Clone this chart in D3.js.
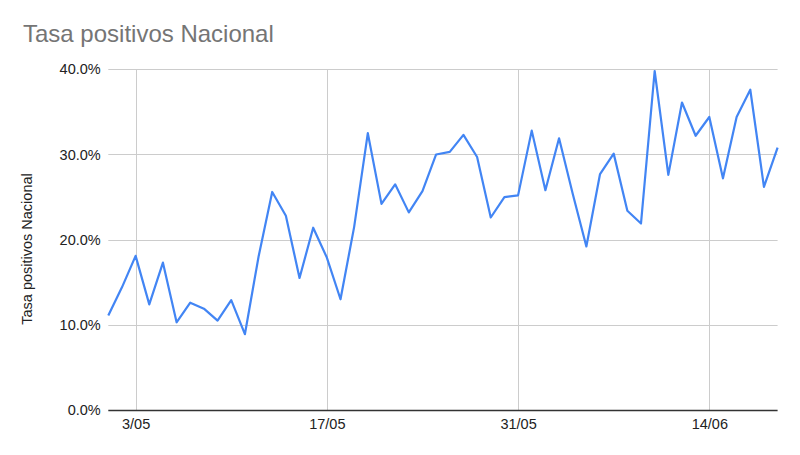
<!DOCTYPE html>
<html>
<head>
<meta charset="utf-8">
<script src="https://cdn.jsdelivr.net/npm/d3@7"></script>
<style>
  html, body { margin: 0; padding: 0; background: #fff; }
  svg { display: block; font-family: "Liberation Sans", Arial, sans-serif; }
</style>
</head>
<body>
<svg id="chart" width="800" height="455"></svg>
<script>
// ---- Data ----
const dates = ["2020-05-01","2020-05-02","2020-05-03","2020-05-04","2020-05-05","2020-05-06","2020-05-07","2020-05-08","2020-05-09","2020-05-10",
  "2020-05-11","2020-05-12","2020-05-13","2020-05-14","2020-05-15","2020-05-16","2020-05-17","2020-05-18","2020-05-19","2020-05-20",
  "2020-05-21","2020-05-22","2020-05-23","2020-05-24","2020-05-25","2020-05-26","2020-05-27","2020-05-28","2020-05-29","2020-05-30",
  "2020-05-31","2020-06-01","2020-06-02","2020-06-03","2020-06-04","2020-06-05","2020-06-06","2020-06-07","2020-06-08","2020-06-09",
  "2020-06-10","2020-06-11","2020-06-12","2020-06-13","2020-06-14","2020-06-15","2020-06-16","2020-06-17","2020-06-18","2020-06-19"];
const tasaPositivos = [11.1,14.4,18.1,12.4,17.3,10.3,12.6,11.9,10.5,12.9,
  8.9,18.0,25.6,22.8,15.5,21.4,17.9,13.0,21.5,32.5,
  24.2,26.5,23.2,25.7,30.0,30.3,32.3,29.7,22.6,25.0,
  25.2,32.8,25.8,31.9,25.4,19.2,27.7,30.1,23.4,21.9,
  39.8,27.6,36.1,32.2,34.4,27.2,34.4,37.6,26.2,30.8];
const xTickDates = ["2020-05-03","2020-05-17","2020-05-31","2020-06-14"];
const xTickLabels = ["3/05","17/05","31/05","14/06"];
const yTicks = [0,10,20,30,40];

const chartTitle = "Tasa positivos Nacional";
const yAxisTitle = "Tasa positivos Nacional";

// ---- Layout ----
const svg = d3.select("#chart");
const parse = d3.timeParse("%Y-%m-%d");
const data = dates.map((d,i) => ({date: parse(d), value: tasaPositivos[i]}));

const pLeft = 108.3, pRight = 777.6, pTop = 69.3, pBottom = 410;

const x = d3.scaleTime()
  .domain([parse(dates[0]), parse(dates[dates.length-1])])
  .range([pLeft, pRight]);
const y = d3.scaleLinear().domain([0, 40]).range([pBottom, pTop]);

// Title
svg.append("text")
  .attr("x", 23).attr("y", 42)
  .attr("font-size", 24)
  .attr("fill", "#757575")
  .text(chartTitle);

// Horizontal gridlines
svg.append("g").selectAll("line").data(yTicks.filter(t => t !== 0)).join("line")
  .attr("x1", pLeft).attr("x2", pRight)
  .attr("y1", d => Math.round(y(d)) + 0.5).attr("y2", d => Math.round(y(d)) + 0.5)
  .attr("stroke", "#cccccc").attr("stroke-width", 1);

// Vertical gridlines
const xTicks = xTickDates.map(parse);
svg.append("g").selectAll("line").data(xTicks).join("line")
  .attr("x1", d => Math.round(x(d)) + 0.5).attr("x2", d => Math.round(x(d)) + 0.5)
  .attr("y1", pTop).attr("y2", pBottom)
  .attr("stroke", "#cccccc").attr("stroke-width", 1);

// Y axis labels
const yAxis = d3.axisLeft(y).tickValues(yTicks).tickSize(0).tickPadding(0)
  .tickFormat(d => d.toFixed(1) + "%");
const gy = svg.append("g").attr("transform", "translate(100.7,0)").call(yAxis);
gy.select(".domain").remove();
gy.selectAll("text").attr("font-size", 14.5).attr("fill", "#222")
  .attr("font-family", "Liberation Sans, Arial, sans-serif");

// X axis labels
const xAxis = d3.axisBottom(x).tickValues(xTicks).tickSize(0).tickPadding(0)
  .tickFormat((d,i) => xTickLabels[i]);
const gx = svg.append("g").attr("transform", `translate(0,${pBottom})`).call(xAxis);
gx.select(".domain").remove();
gx.selectAll("text").attr("font-size", 14.5).attr("fill", "#222")
  .attr("dy", 0).attr("y", 19)
  .attr("font-family", "Liberation Sans, Arial, sans-serif");

// Baseline
svg.append("line")
  .attr("x1", pLeft).attr("x2", pRight)
  .attr("y1", pBottom + 0.5).attr("y2", pBottom + 0.5)
  .attr("stroke", "#333").attr("stroke-width", 1.3);

// Y axis title
svg.append("text")
  .attr("transform", "translate(32,249) rotate(-90)")
  .attr("text-anchor", "middle")
  .attr("font-size", 14.5)
  .attr("fill", "#222")
  .text(yAxisTitle);

// Line
const line = d3.line().x(d => x(d.date)).y(d => y(d.value));
svg.append("path").datum(data)
  .attr("d", line)
  .attr("fill", "none")
  .attr("stroke", "#4285F4")
  .attr("stroke-width", 2.2)
  .attr("stroke-linejoin", "round");
</script>
</body>
</html>
